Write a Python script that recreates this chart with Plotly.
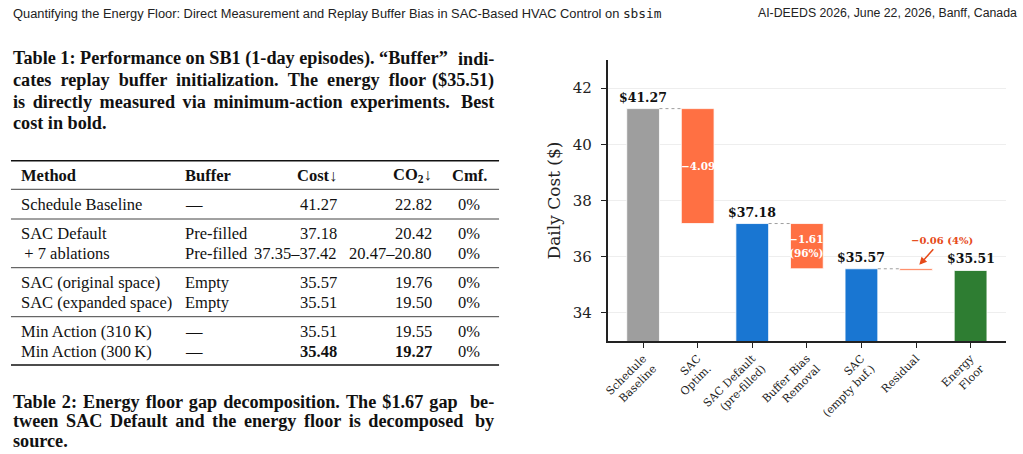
import plotly.graph_objects as go

# ---------------- data ----------------
header_left = "Quantifying the Energy Floor: Direct Measurement and Replay Buffer Bias in SAC-Based HVAC Control on "
header_code = "sbsim"
header_right = "AI-DEEDS 2026, June 22, 2026, Banff, Canada"

caption1_lines = [
    "Table 1: Performance on SB1 (1-day episodes). \u201cBuffer\u201d indi-",
    "cates replay buffer initialization. The energy floor ($35.51)",
    "is directly measured via minimum-action experiments. Best",
    "cost in bold.",
]
caption2_lines = [
    "Table 2: Energy floor gap decomposition. The $1.67 gap be-",
    "tween SAC Default and the energy floor is decomposed by",
    "source.",
]

table_columns = ["Method", "Buffer", "Cost\u2193", "CO<sub>2</sub>\u2193", "Cmf."]
table_methods = ["Schedule Baseline", "SAC Default", "\u2009+ 7 ablations",
                 "SAC (original space)", "SAC (expanded space)",
                 "Min Action (310\u2009K)", "Min Action (300\u2009K)"]
table_buffers = ["\u2014", "Pre-filled", "Pre-filled", "Empty", "Empty", "\u2014", "\u2014"]
table_costs = ["41.27", "37.18", "37.35\u201337.42", "35.57", "35.51", "35.51", "35.48"]
table_co2 = ["22.82", "20.42", "20.47\u201320.80", "19.76", "19.50", "19.55", "19.27"]
table_cmf = ["0%", "0%", "0%", "0%", "0%", "0%", "0%"]

step_labels = ["Schedule<br>Baseline", "SAC<br>Optim.", "SAC Default<br>(pre-filled)",
               "Buffer Bias<br>Removal", "SAC<br>(empty buf.)", "Residual", "Energy<br>Floor"]
step_values = [41.27, -4.09, 37.18, -1.61, 35.57, -0.06, 35.51]
step_kinds = ["total", "delta", "total", "delta", "total", "delta", "total"]
step_colors = ["#9e9e9e", "#ff7043", "#1976d2", "#ff7043", "#1976d2", "#ff7043", "#2e7d32"]

# ---------------- helpers ----------------
W, H = 1023, 454
SERIF = "Liberation Serif"
CHART_FONT = "DejaVu Serif"
HAIR = "\u200a"

def px(x):
    return x / W

def py(y):
    return 1 - y / H

annotations = []
shapes = []

def add_text(x, y, text, size, family=SERIF, xanchor="left", color="#111"):
    annotations.append(dict(x=px(x), y=py(y), xref="paper", yref="paper", text=text,
                            showarrow=False, xanchor=xanchor, yanchor="middle",
                            borderpad=0, borderwidth=0,
                            font=dict(family=family, size=size, color=color)))

def add_caption(lines, ys, pads, size=18.2, left=9, right=492):
    # approximate justified text: widen inner gaps, right-align the last word
    for k, (line, yy) in enumerate(zip(lines, ys)):
        if k < len(lines) - 1:
            head, tail = line.rsplit(" ", 1)
            head = (" " + HAIR * pads[k]).join(head.split(" "))
            add_text(left, yy, "<b>" + head + "</b>", size)
            add_text(right, yy, "<b>" + tail + "</b>", size, xanchor="right")
        else:
            add_text(left, yy, "<b>" + line + "</b>", size)

# running header
add_text(9, 13, header_left + "<span style=\"font-family:'DejaVu Sans Mono'\">" + header_code + "</span>",
         12.85, family="Liberation Sans", color="#222")
add_text(1017, 13, header_right, 12.3, family="Liberation Sans", xanchor="right", color="#222")

# caption 1
add_caption(caption1_lines, [58.5, 80, 101.5, 123], pads=[0, 3, 2])

# table
col_x = [17, 182, 334, 430, 467]
col_anchor = ["left", "left", "right", "right", "center"]
for c, (xx, anc) in enumerate(zip(col_x, col_anchor)):
    add_text(xx, 175, "<b>" + table_columns[c] + "</b>", 16.5, xanchor=anc)

def _num(s):
    try:
        return float(s)
    except ValueError:
        return None

best_cost = min(v for v in map(_num, table_costs) if v is not None)
best_co2 = min(v for v in map(_num, table_co2) if v is not None)
row_y = [204.3, 233.3, 253.7, 282.7, 302.3, 331, 351]
for i, yy in enumerate(row_y):
    cost = table_costs[i]
    co2 = table_co2[i]
    if _num(cost) == best_cost and i == len(table_costs) - 1:
        cost = "<b>" + cost + "</b>"
    if _num(co2) == best_co2:
        co2 = "<b>" + co2 + "</b>"
    cells = [table_methods[i], table_buffers[i], cost, co2, table_cmf[i]]
    for c, (xx, anc) in enumerate(zip(col_x, col_anchor)):
        add_text(xx, yy, cells[c], 16.5, xanchor=anc)

for yy, lw in [(160.7, 1.5), (189.3, 0.8), (219, 0.8), (267.7, 0.8), (316.7, 0.8), (365, 1.5)]:
    shapes.append(dict(type="line", xref="paper", yref="paper", x0=px(7), x1=px(497),
                       y0=py(yy), y1=py(yy), line=dict(color="#111", width=lw)))

# caption 2
add_caption(caption2_lines, [401.7, 420.9, 441], pads=[1, 2])

# ---------------- waterfall ----------------
bar_w = 0.6
bases, heights, levels = [], [], []
level = 0.0
for v, k in zip(step_values, step_kinds):
    if k == "total":
        bases.append(0)
        heights.append(v)
        level = v
    else:
        top = level
        level = round(level + v, 4)
        bases.append(level)
        heights.append(top - level)
    levels.append(level)

xs = list(range(len(step_values)))
fig = go.Figure(go.Bar(x=xs, y=heights, base=bases, width=bar_w,
                       marker=dict(color=step_colors, line=dict(color="white", width=0.8)),
                       hoverinfo="skip"))

gap = step_values[2] - step_values[6]
for i, (v, k) in enumerate(zip(step_values, step_kinds)):
    if k == "total":
        annotations.append(dict(x=i, y=v, xref="x", yref="y", text="<b>$%.2f</b>" % v,
                                showarrow=False, yanchor="bottom", yshift=2,
                                font=dict(family=CHART_FONT, size=12.5, color="#111")))
    else:
        prev = levels[i - 1]
        shapes.append(dict(type="line", xref="x", yref="y", x0=i - 1 + bar_w / 2, x1=i - bar_w / 2,
                           y0=prev, y1=prev, line=dict(color="#9e9e9e", width=1, dash="dot")))
        label = "\u2212%.2f" % (-v)
        if i > 2:
            label += "<br>(%d%%)" % round(-v / gap * 100)
        if -v > 1:
            annotations.append(dict(x=i, y=(prev + levels[i]) / 2, xref="x", yref="y",
                                    text="<b>" + label + "</b>", showarrow=False,
                                    font=dict(family=CHART_FONT, size=10.5, color="white")))
        else:
            annotations.append(dict(x=i + 0.06, y=prev + 0.14, xref="x", yref="y",
                                    text="<b>" + label.replace("<br>", " ") + "</b>",
                                    ax=i + 0.47, ay=prev + 1.02, axref="x", ayref="y",
                                    showarrow=True, arrowhead=2, arrowsize=1, arrowwidth=1.5,
                                    startstandoff=3, arrowcolor="#e64a19",
                                    font=dict(family=CHART_FONT, size=10, color="#e64a19")))

fig.update_layout(
    width=W, height=H, margin=dict(l=0, r=0, t=0, b=0),
    paper_bgcolor="white", plot_bgcolor="white", showlegend=False,
    annotations=annotations, shapes=shapes,
    xaxis=dict(domain=[px(606), px(1006)], range=[-0.65, 6.65], tickvals=xs, ticktext=step_labels,
               tickangle=-45, ticks="outside", ticklen=5, tickwidth=1.3, tickcolor="#222",
               showline=True, linewidth=1.5, linecolor="#222", showgrid=False, zeroline=False,
               tickfont=dict(family=CHART_FONT, size=11, color="#222")),
    yaxis=dict(domain=[py(341), py(60)], range=[33, 43], tickvals=[34, 36, 38, 40, 42],
               ticks="outside", ticklen=5, tickwidth=1.3, tickcolor="#222",
               showline=True, linewidth=1.5, linecolor="#222", showgrid=True,
               gridcolor="#eeeeee", gridwidth=1, zeroline=False, ticklabelstandoff=6,
               tickfont=dict(family=CHART_FONT, size=15, color="#222"),
               title=dict(text="Daily Cost ($)", standoff=8,
                          font=dict(family=CHART_FONT, size=17, color="#222"))),
)

fig.write_html("out.html")
